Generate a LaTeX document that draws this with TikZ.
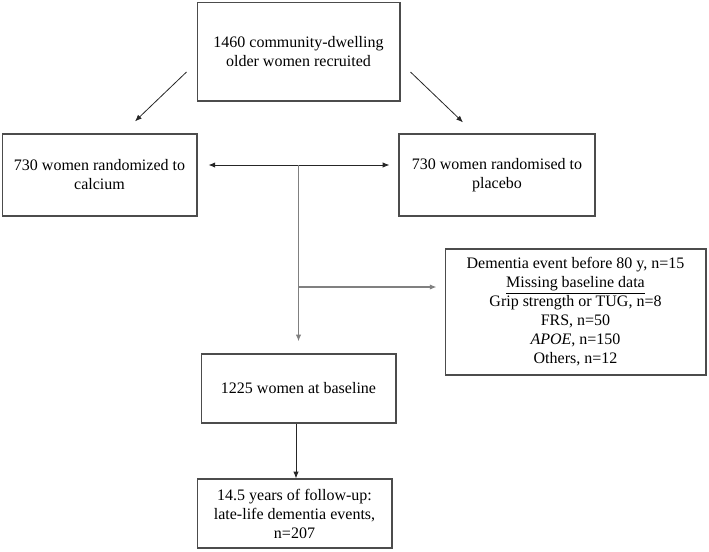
\documentclass[tikz,border=0pt]{standalone}
\usepackage{fontspec}
\setmainfont{Liberation Serif}
\usetikzlibrary{calc,arrows.meta}

\tikzset{
  box/.style={draw=black!70, line width=1pt, align=center, inner sep=2pt,
    font=\fontsize{12}{14.25}\selectfont},
  link/.style={draw=black!85, line width=0.6pt, -{Latex[length=5pt,width=4pt]}},
  trunk/.style={draw=black!50, line width=0.9pt},
}

\begin{document}
\begin{tikzpicture}[x=0.75pt,y=-0.75pt]
    \useasboundingbox (0,0) rectangle (709,551);

    % Boxes
    \node[box, minimum width=152pt, minimum height=74pt] (recruit) at (298.5,51.5)
        {1460 community-dwelling\\older women recruited};
    \node[box, minimum width=146pt, minimum height=61.5pt] (calcium) at (99.5,175)
        {730 women randomized to\\calcium};
    \node[box, minimum width=147pt, minimum height=61.5pt] (placebo) at (497,175)
        {730 women randomised to\\placebo};
    \node[box, minimum width=195.5pt, minimum height=94.5pt] (excluded) at (575.5,312)
        {Dementia event before 80 y, n=15\\\underline{Missing baseline data}\\
         Grip strength or TUG, n=8\\FRS, n=50\\\textit{APOE}, n=150\\Others, n=12};
    \node[box, minimum width=146pt, minimum height=51.75pt] (baseline) at (298.5,388.5)
        {1225 women at baseline};
    \node[box, minimum width=146pt, minimum height=51.75pt] (followup) at (294.5,513.5)
        {14.5 years of follow-up:\\late-life dementia events,\\n=207};

    % Randomisation
    \coordinate (splitL) at ($(recruit.west)+(-10,20.5)$);
    \coordinate (splitR) at ($(recruit.east)+(10,20.5)$);
    \draw[link] (splitL) -- ($(calcium.north)+(35.5,-12)$);
    \draw[link] (splitR) -- ($(placebo.north)+(-34,-11)$);

    % Pooled arms
    \coordinate (armL) at ($(calcium.east)+(11,-10)$);
    \coordinate (armR) at ($(placebo.west)+(-9,-10)$);
    \draw[link, {Latex[length=5pt,width=4pt]}-{Latex[length=5pt,width=4pt]}] (armL) -- (armR);
    \coordinate (join) at (armL -| baseline.north);
    \coordinate (branch) at ($(excluded.west)+(-8,-25)$);
    \draw[trunk, -{Latex[length=5pt,width=4pt]}] (join) -- ($(baseline.north)+(0,-12)$);
    \draw[trunk, -{Latex[length=5pt,width=4pt]}] (join |- branch) -- (branch);

    % Follow-up
    \coordinate (down) at ($(baseline.south)+(-2.5,0)$);
    \draw[link] (down) -- (down |- followup.north);
\end{tikzpicture}
\end{document}
